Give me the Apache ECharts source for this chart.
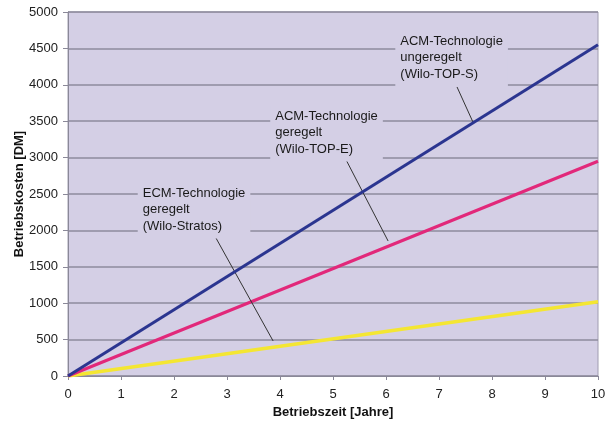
<!DOCTYPE html>
<html>
<head>
<meta charset="utf-8">
<script src="https://cdn.jsdelivr.net/npm/echarts@6/dist/echarts.min.js"></script>
<style>
  html, body { margin: 0; padding: 0; background: #fff; }
  #chart { width: 605px; height: 426px; }
</style>
</head>
<body>
<div id="chart"></div>
<script>
// Betriebskosten ueber Betriebszeit
var years = [0, 10];
var topS = [0, 4550];      // ACM ungeregelt
var topE = [0, 2950];      // ACM geregelt
var stratos = [0, 1020];   // ECM geregelt

// annotations: text, top-left anchor, leader line (data coords)
var labels = [
  { text: 'ACM-Technologie\nungeregelt\n(Wilo-TOP-S)', at: [6.27, 4740], leader: [[7.34, 3970], [7.64, 3489]] },
  { text: 'ACM-Technologie\ngeregelt\n(Wilo-TOP-E)', at: [3.91, 3710], leader: [[5.17, 3077], [6.04, 1854]] },
  { text: 'ECM-Technologie\ngeregelt\n(Wilo-Stratos)', at: [1.41, 2650], leader: [[2.75, 1950], [3.87, 481]] }
];

var plotBg = '#d4cfe5';
var font = 'Liberation Sans, Arial, sans-serif';

function pairs(vals) {
  return years.map(function(x, i) { return [x, vals[i]]; });
}

function leaderLine(i) {
  var l = labels[i].leader;
  return {
    silent: true,
    symbol: 'none',
    label: { show: false },
    lineStyle: { color: '#333', width: 1, type: 'solid' },
    data: [[{ coord: l[0] }, { coord: l[1] }]]
  };
}

var chart = echarts.init(document.getElementById('chart'));
var option = {
  animation: false,
  backgroundColor: '#fff',
  textStyle: { fontFamily: font },
  grid: {
    left: 68, right: 7, top: 12, bottom: 50,
    containLabel: false, outerBoundsMode: 'none',
    show: true, backgroundColor: plotBg, borderColor: '#a09cb0', borderWidth: 1
  },
  xAxis: {
    type: 'value', min: 0, max: 10, interval: 1,
    name: 'Betriebszeit [Jahre]', nameLocation: 'middle', nameGap: 29,
    nameTextStyle: { fontWeight: 'bold', fontSize: 13, color: '#111' },
    axisLine: { lineStyle: { color: '#8a8898', width: 1 } },
    axisTick: { show: true, length: 4, lineStyle: { color: '#8a8898' } },
    axisLabel: { fontSize: 13, color: '#222', margin: 12 },
    splitLine: { show: false }
  },
  yAxis: {
    type: 'value', min: 0, max: 5000, interval: 500,
    axisLine: { show: true, lineStyle: { color: '#8a8898', width: 1 } },
    axisTick: { show: true, length: 5, lineStyle: { color: '#8a8898' } },
    axisLabel: { fontSize: 13, color: '#222', margin: 10, formatter: function(v) { return String(v); } },
    splitLine: { show: true, lineStyle: { color: '#8e8b9c', width: 1.5 } }
  },
  series: [
    {
      name: 'TOP-S', type: 'line', data: pairs(topS), symbol: 'none', z: 5,
      lineStyle: { color: '#2b3590', width: 3 }, markLine: leaderLine(0)
    },
    {
      name: 'TOP-E', type: 'line', data: pairs(topE), symbol: 'none', z: 4,
      lineStyle: { color: '#e2287a', width: 3 }, markLine: leaderLine(1)
    },
    {
      name: 'Stratos', type: 'line', data: pairs(stratos), symbol: 'none', z: 3,
      lineStyle: { color: '#f4e632', width: 3.5 }, markLine: leaderLine(2)
    }
  ]
};
chart.setOption(option);

// text boxes placed through the axis scales, with plot-coloured background
var texts = labels.map(function(l) {
  var p = chart.convertToPixel({ gridIndex: 0 }, l.at);
  return {
    type: 'text', z: 10,
    x: p[0] - 5, y: p[1],
    style: {
      text: l.text, fill: '#1a1a1a', fontSize: 13, lineHeight: 16.5,
      fontFamily: font,
      backgroundColor: plotBg, padding: [2, 5, 4, 5]
    }
  };
});

// y axis title, drawn by hand so it sits close to the tick labels
var mid = chart.convertToPixel({ gridIndex: 0 }, [0, 2500]);
texts.push({
  type: 'text', z: 10,
  x: 19, y: mid[1], rotation: Math.PI / 2,
  style: {
    text: 'Betriebskosten [DM]', fill: '#111', fontSize: 13, fontWeight: 'bold',
    fontFamily: font, align: 'center', verticalAlign: 'middle'
  }
});
chart.setOption({ graphic: texts });
</script>
</body>
</html>
